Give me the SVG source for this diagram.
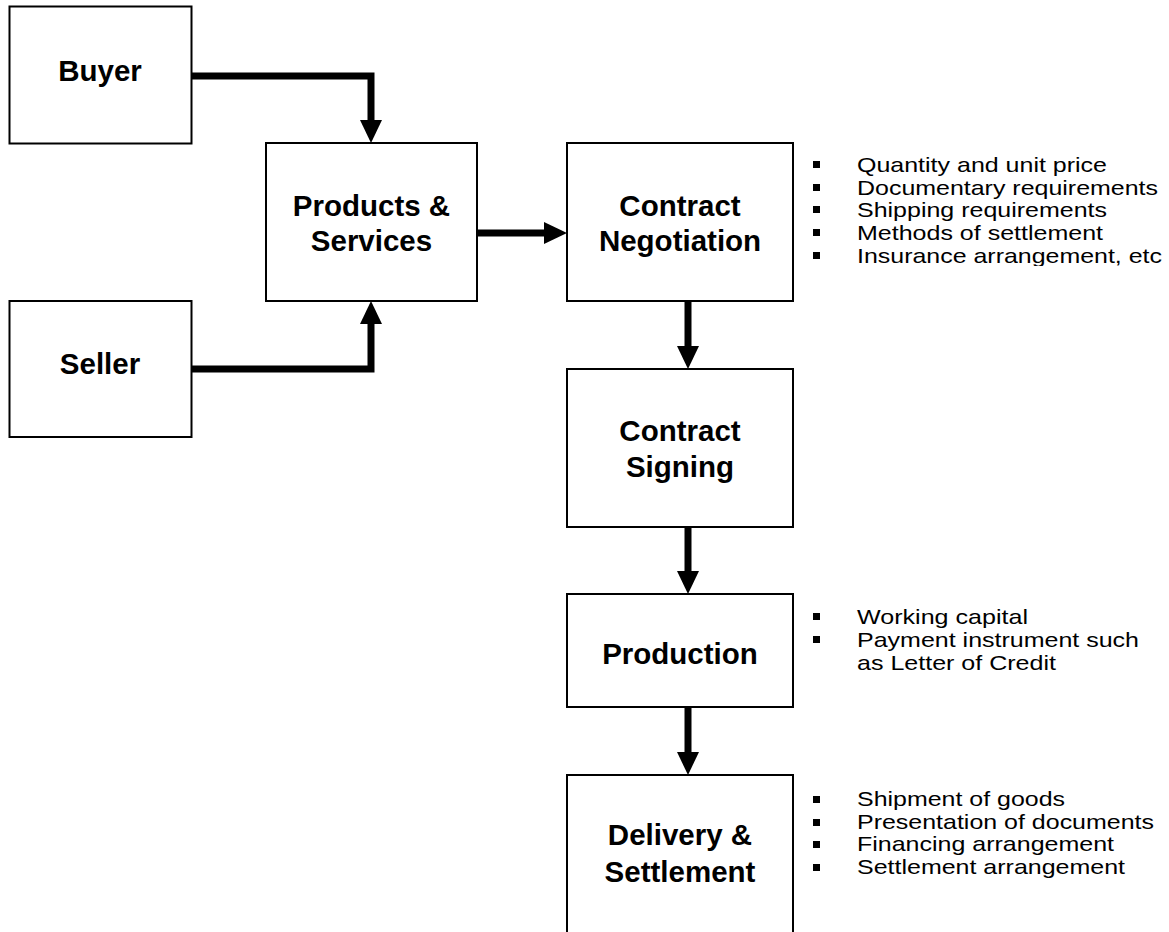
<svg xmlns="http://www.w3.org/2000/svg" width="1169" height="932" viewBox="0 0 1169 932">
<defs>
<style>
.box{fill:#fff;stroke:#000;stroke-width:2}
.lbl{font-family:"Liberation Sans",Arial,sans-serif;font-weight:bold;font-size:29.5px;text-anchor:middle;fill:#000}
.bt{font-family:"Liberation Sans",Arial,sans-serif;font-size:21px;fill:#000}
.blt{fill:#000}
.conn{fill:none;stroke:#000;stroke-width:7;stroke-linejoin:miter}
</style>
<marker id="ah" markerUnits="userSpaceOnUse" markerWidth="23" markerHeight="22" refX="0" refY="11" orient="auto" viewBox="0 0 23 22">
<path d="M0,0 L23,11 L0,22 z" fill="#000"/>
</marker>
<clipPath id="negclip"><rect x="800" y="140" width="369" height="126"/></clipPath>
</defs>
<rect width="1169" height="932" fill="#fff"/>
<g id="connectors">
<path class="conn" d="M191,76 H371 V120" marker-end="url(#ah)"/>
<path class="conn" d="M191,369 H371 V324" marker-end="url(#ah)"/>
<path class="conn" d="M477,233 H544" marker-end="url(#ah)"/>
<path class="conn" d="M688,301 V346" marker-end="url(#ah)"/>
<path class="conn" d="M688,527 V571" marker-end="url(#ah)"/>
<path class="conn" d="M688,707 V752" marker-end="url(#ah)"/>
</g>
<g id="buyer">
<rect class="box" x="9.5" y="6.5" width="182" height="137"/>
<text class="lbl" x="100" y="81">Buyer</text>
</g>
<g id="seller">
<rect class="box" x="9.5" y="301" width="182" height="136"/>
<text class="lbl" x="100" y="374">Seller</text>
</g>
<g id="products">
<rect class="box" x="266" y="143" width="211" height="158"/>
<text class="lbl" x="371.5" y="216">Products &amp;</text>
<text class="lbl" x="371.5" y="251">Services</text>
</g>
<g id="negotiation">
<rect class="box" x="567" y="143" width="226" height="158"/>
<text class="lbl" x="680" y="216">Contract</text>
<text class="lbl" x="680" y="251">Negotiation</text>
</g>
<g id="negotiation-notes" clip-path="url(#negclip)">
<rect class="blt" x="813" y="161" width="7" height="7"/>
<rect class="blt" x="813" y="184" width="7" height="7"/>
<rect class="blt" x="813" y="206" width="7" height="7"/>
<rect class="blt" x="813" y="229" width="7" height="7"/>
<rect class="blt" x="813" y="252" width="7" height="7"/>
<text class="bt" x="857" y="172" textLength="250" lengthAdjust="spacingAndGlyphs">Quantity and unit price</text>
<text class="bt" x="857" y="195" textLength="301" lengthAdjust="spacingAndGlyphs">Documentary requirements</text>
<text class="bt" x="857" y="217" textLength="250" lengthAdjust="spacingAndGlyphs">Shipping requirements</text>
<text class="bt" x="857" y="240" textLength="246" lengthAdjust="spacingAndGlyphs">Methods of settlement</text>
<text class="bt" x="857" y="263" textLength="305" lengthAdjust="spacingAndGlyphs">Insurance arrangement, etc</text>
</g>
<g id="signing">
<rect class="box" x="567" y="369" width="226" height="158"/>
<text class="lbl" x="680" y="441">Contract</text>
<text class="lbl" x="680" y="477">Signing</text>
</g>
<g id="production">
<rect class="box" x="567" y="594" width="226" height="113"/>
<text class="lbl" x="680" y="664">Production</text>
</g>
<g id="production-notes">
<rect class="blt" x="813" y="613" width="7" height="7"/>
<rect class="blt" x="813" y="636" width="7" height="7"/>
<text class="bt" x="857" y="624" textLength="171" lengthAdjust="spacingAndGlyphs">Working capital</text>
<text class="bt" x="857" y="647" textLength="282" lengthAdjust="spacingAndGlyphs">Payment instrument such</text>
<text class="bt" x="857" y="670" textLength="199" lengthAdjust="spacingAndGlyphs">as Letter of Credit</text>
</g>
<g id="delivery">
<rect class="box" x="567" y="775" width="226" height="170"/>
<text class="lbl" x="680" y="845">Delivery &amp;</text>
<text class="lbl" x="680" y="882">Settlement</text>
</g>
<g id="delivery-notes">
<rect class="blt" x="813" y="796" width="7" height="7"/>
<rect class="blt" x="813" y="819" width="7" height="7"/>
<rect class="blt" x="813" y="841" width="7" height="7"/>
<rect class="blt" x="813" y="864" width="7" height="7"/>
<text class="bt" x="857" y="806" textLength="208" lengthAdjust="spacingAndGlyphs">Shipment of goods</text>
<text class="bt" x="857" y="829" textLength="297" lengthAdjust="spacingAndGlyphs">Presentation of documents</text>
<text class="bt" x="857" y="851" textLength="257" lengthAdjust="spacingAndGlyphs">Financing arrangement</text>
<text class="bt" x="857" y="874" textLength="268" lengthAdjust="spacingAndGlyphs">Settlement arrangement</text>
</g>
</svg>
